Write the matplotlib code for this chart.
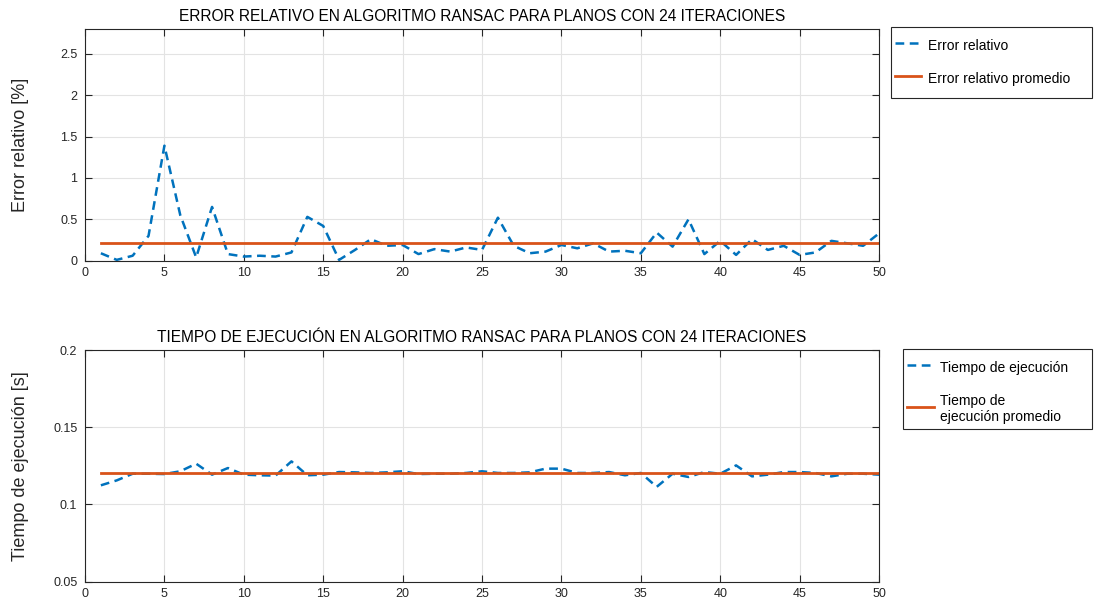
import matplotlib
matplotlib.use("Agg")
import matplotlib.pyplot as plt
from matplotlib.ticker import FuncFormatter
from matplotlib.legend_handler import HandlerLine2D
import numpy as np

plt.rcParams['font.family'] = ['Liberation Sans', 'DejaVu Sans']

# Run index of each RANSAC trial
iterations = np.arange(1, 51)

# Relative error of each run [%]
rel_error = [0.09, 0.01, 0.06, 0.30, 1.39, 0.55, 0.04, 0.65, 0.08, 0.05,
             0.06, 0.05, 0.10, 0.53, 0.42, 0.01, 0.13, 0.26, 0.18, 0.19,
             0.08, 0.14, 0.11, 0.16, 0.13, 0.52, 0.18, 0.09, 0.11, 0.19,
             0.15, 0.21, 0.11, 0.12, 0.09, 0.34, 0.17, 0.50, 0.08, 0.24,
             0.07, 0.26, 0.13, 0.18, 0.07, 0.10, 0.24, 0.21, 0.18, 0.33]

# Execution time of each run [s]
exec_time = [0.1124, 0.1156, 0.1199, 0.1199, 0.1197, 0.1215, 0.1264, 0.1193, 0.1236, 0.1193,
             0.1189, 0.1187, 0.1279, 0.1189, 0.1193, 0.1210, 0.1208, 0.1204, 0.1208, 0.1215,
             0.1197, 0.1199, 0.1199, 0.1204, 0.1215, 0.1204, 0.1204, 0.1208, 0.1232, 0.1232,
             0.1204, 0.1204, 0.1210, 0.1189, 0.1204, 0.1114, 0.1199, 0.1178, 0.1210, 0.1199,
             0.1253, 0.1182, 0.1193, 0.1210, 0.1210, 0.1204, 0.1182, 0.1199, 0.1199, 0.1193]

x_ticks = list(range(0, 51, 5))
err_ticks = [0, 0.5, 1, 1.5, 2, 2.5]
time_ticks = [0.05, 0.1, 0.15, 0.2]

title_err = 'ERROR RELATIVO EN ALGORITMO RANSAC PARA PLANOS CON 24 ITERACIONES'
title_time = 'TIEMPO DE EJECUCIÓN EN ALGORITMO RANSAC PARA PLANOS CON 24 ITERACIONES'

BLUE = '#0072BD'
ORANGE = '#D95319'
DARK = '#262626'

fig = plt.figure(figsize=(10.94, 6.06), dpi=100)
ax1 = fig.add_axes([0.0777, 0.5698, 0.7258, 0.3823])
ax2 = fig.add_axes([0.0777, 0.0401, 0.7258, 0.3823])

fmt = FuncFormatter(lambda v, p: f'{v:g}')


class CenteredLineHandler(HandlerLine2D):
    """Legend line handler that sits the sample line level with the text."""

    def adjust_drawing_area(self, legend, orig_handle, xdescent, ydescent,
                            width, height, fontsize):
        xd, yd, w, h = super().adjust_drawing_area(
            legend, orig_handle, xdescent, ydescent, width, height, fontsize)
        return xd, yd + 3.0, w, h


def style(ax, yticks, ylim, title, ylabel):
    ax.set_xlim(0, 50)
    ax.set_ylim(*ylim)
    ax.set_xticks(x_ticks)
    ax.set_yticks(yticks)
    ax.yaxis.set_major_formatter(fmt)
    ax.grid(True, color='#e3e3e3', linewidth=0.8)
    ax.set_axisbelow(True)
    ax.tick_params(direction='in', length=5, width=0.8, colors=DARK,
                   labelsize=9, top=True, right=True)
    ax.tick_params(axis='x', pad=4.5)
    ax.tick_params(axis='y', pad=5.5)
    for s in ax.spines.values():
        s.set_color(DARK)
        s.set_linewidth(0.8)
    ax.set_title(title, fontsize=11.2, color='black', pad=5.5)
    ax.set_ylabel(ylabel, fontsize=13, color=DARK)
    ax.yaxis.set_label_coords(-0.071, 0.5)


def add_legend(ax, top, left, labelspacing, borderpad=0.3):
    handler = CenteredLineHandler()
    handles, labels = ax.get_legend_handles_labels()
    leg = ax.legend(handles, labels, loc='upper left',
                    bbox_to_anchor=(left, top - 0.2, 0.9982 - left, 0.2),
                    bbox_transform=fig.transFigure, mode='expand',
                    borderaxespad=0, fontsize=10, frameon=True, fancybox=False,
                    framealpha=1, edgecolor=DARK, borderpad=borderpad,
                    handlelength=1.9, handletextpad=0.45, handleheight=2.8,
                    labelspacing=labelspacing,
                    handler_map={h: handler for h in handles})
    leg.get_frame().set_linewidth(0.8)
    return leg


# Relative error panel
err_mean = np.mean(rel_error)
ax1.plot(iterations, rel_error, color=BLUE, linewidth=1.8,
         linestyle=(0, (3.5, 2.2)), label='Error relativo')
ax1.plot(iterations, np.full(len(iterations), err_mean), color=ORANGE,
         linewidth=2.0, label='Error relativo promedio')
style(ax1, err_ticks, (0, 2.8), title_err, 'Error relativo [%]')
add_legend(ax1, 1 - 27.3 / 606, 890.7 / 1094, 0.35)

# Execution time panel
time_mean = np.mean(exec_time)
ax2.plot(iterations, exec_time, color=BLUE, linewidth=1.8,
         linestyle=(0, (3.5, 2.2)), label='Tiempo de ejecución')
ax2.plot(iterations, np.full(len(iterations), time_mean), color=ORANGE,
         linewidth=2.0, label='Tiempo de\nejecución promedio')
style(ax2, time_ticks, (0.05, 0.2), title_time, 'Tiempo de ejecución [s]')
add_legend(ax2, 1 - 349.3 / 606, 903 / 1094, 0.85)

fig.savefig('out.png', dpi=100)
